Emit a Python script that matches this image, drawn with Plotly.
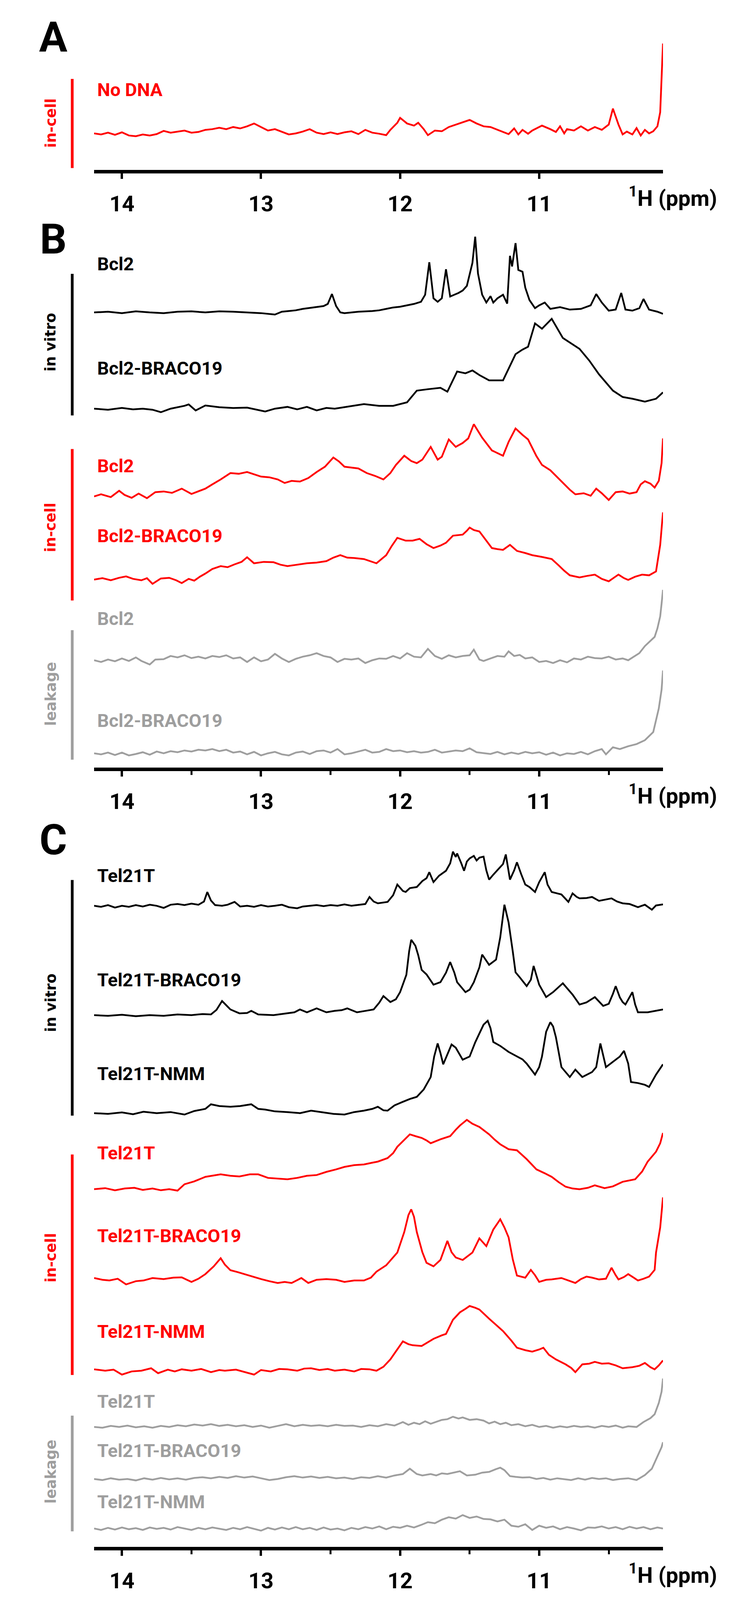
"""Imino-proton NMR spectra: in vitro, in-cell and leakage samples (panels A, B, C)."""
import plotly.graph_objects as go

# ---- panel A: no DNA, in-cell ----
NO_DNA_PPM = [14.20, 14.15, 14.10, 14.05, 14.00, 13.95, 13.90, 13.85, 13.80, 13.75, 13.70, 13.65,
              13.60, 13.55, 13.50, 13.45, 13.40, 13.35, 13.30, 13.25, 13.20, 13.15, 13.10, 13.05,
              13.00, 12.95, 12.90, 12.85, 12.80, 12.75, 12.70, 12.65, 12.60, 12.55, 12.50, 12.45,
              12.40, 12.35, 12.30, 12.25, 12.20, 12.15, 12.10, 12.07, 12.02, 12.00, 11.95, 11.90,
              11.87, 11.83, 11.80, 11.75, 11.70, 11.65, 11.60, 11.55, 11.50, 11.45, 11.40, 11.35,
              11.30, 11.25, 11.22, 11.18, 11.15, 11.12, 11.08, 11.05, 10.98, 10.92, 10.88, 10.85,
              10.82, 10.80, 10.75, 10.70, 10.65, 10.60, 10.55, 10.50, 10.47, 10.43, 10.40, 10.37,
              10.33, 10.30, 10.27, 10.24, 10.21, 10.18, 10.15, 10.13, 10.12, 10.11]
NO_DNA_INT = [0, -3, 2, -4, 3, -6, -8, -3, -6, -2, 7, 2,
              5, 8, 2, 4, 10, 12, 16, 12, 18, 14, 20, 28,
              18, 8, 12, 5, -3, 0, 5, 12, 2, -2, 3, -2,
              3, 6, -2, 10, 2, -1, -5, 10, 30, 44, 28, 22,
              30, 12, -5, 8, 6, 18, 25, 32, 38, 28, 20, 18,
              10, 3, -2, 14, -3, 10, -1, 8, 22, 12, 4, 20,
              0, 12, 8, 20, 8, 18, 10, 25, 70, 25, -3, 5,
              -3, 15, -6, 10, 0, 6, 20, 60, 150, 254]

# ---- panel B: Bcl2 ----
BCL2_VITRO_PPM = [14.20, 14.10, 14.00, 13.90, 13.80, 13.70, 13.60, 13.50, 13.40, 13.30, 13.20, 13.10,
                  13.00, 12.90, 12.85, 12.80, 12.75, 12.70, 12.62, 12.55, 12.52, 12.49, 12.46, 12.43,
                  12.40, 12.30, 12.20, 12.15, 12.10, 12.05, 12.00, 11.95, 11.90, 11.85, 11.82, 11.79,
                  11.76, 11.73, 11.70, 11.67, 11.64, 11.61, 11.58, 11.55, 11.52, 11.48, 11.46, 11.44,
                  11.41, 11.38, 11.35, 11.33, 11.30, 11.26, 11.23, 11.21, 11.195, 11.17, 11.15, 11.12,
                  11.10, 11.07, 11.03, 11.00, 10.96, 10.92, 10.85, 10.78, 10.70, 10.63, 10.59, 10.55,
                  10.50, 10.45, 10.41, 10.38, 10.33, 10.28, 10.25, 10.21, 10.15, 10.11]
BCL2_VITRO_INT = [0, 2, -2, 3, 0, -2, 2, 3, 0, 3, 2, 0,
                  -2, -6, 2, 4, 6, 10, 14, 18, 24, 52, 18, 0,
                  -2, 2, 4, 6, 10, 14, 16, 20, 24, 30, 50, 142,
                  40, 30, 40, 122, 45, 50, 55, 62, 75, 140, 214, 110,
                  50, 28, 46, 28, 40, 50, 25, 160, 130, 196, 120, 115,
                  70, 35, 12, 20, 28, 10, 15, 8, 10, 20, 52, 28,
                  5, 8, 55, 8, 5, 12, 38, 8, 2, -4]

BCL2_BRACO_VITRO_PPM = [14.20, 14.10, 14.00, 13.92, 13.85, 13.78, 13.72, 13.65, 13.55, 13.52, 13.47,
                        13.40, 13.30, 13.20, 13.10, 12.97, 12.90, 12.81, 12.74, 12.67, 12.60, 12.53,
                        12.47, 12.40, 12.33, 12.26, 12.15, 12.05, 11.95, 11.88, 11.80, 11.71, 11.66,
                        11.59, 11.53, 11.48, 11.43, 11.36, 11.26, 11.17, 11.12, 11.08, 11.03, 10.98,
                        10.91, 10.83, 10.71, 10.64, 10.57, 10.47, 10.40, 10.33, 10.24, 10.16, 10.11]
BCL2_BRACO_VITRO_INT = [0, -3, 2, -2, 0, -3, -10, 0, 8, 12, -5,
                        9, 4, 2, 3, -8, 0, 5, -2, 5, -5, 2,
                        0, 4, 8, 13, 8, 8, 18, 51, 55, 59, 48,
                        105, 100, 108, 95, 80, 80, 154, 167, 175, 241, 226,
                        254, 200, 169, 136, 97, 51, 33, 28, 20, 28, 46]

BCL2_CELL_PPM = [14.20, 14.15, 14.08, 14.02, 13.98, 13.93, 13.88, 13.82, 13.76, 13.70, 13.64, 13.57,
                 13.50, 13.45, 13.40, 13.35, 13.29, 13.22, 13.16, 13.10, 13.05, 13.00, 12.94, 12.88,
                 12.83, 12.78, 12.72, 12.66, 12.60, 12.54, 12.48, 12.44, 12.40, 12.35, 12.30, 12.24,
                 12.18, 12.12, 12.07, 12.03, 11.97, 11.92, 11.88, 11.84, 11.78, 11.73, 11.70, 11.65,
                 11.60, 11.55, 11.51, 11.47, 11.41, 11.34, 11.30, 11.26, 11.22, 11.17, 11.12, 11.08,
                 11.02, 10.98, 10.92, 10.88, 10.83, 10.78, 10.74, 10.68, 10.63, 10.59, 10.55, 10.50,
                 10.45, 10.40, 10.35, 10.30, 10.27, 10.24, 10.20, 10.17, 10.14, 10.12, 10.11]
BCL2_CELL_INT = [-4, 2, -6, 12, 0, -8, 4, -9, 8, 10, 6, 18,
                 3, 10, 18, 30, 44, 62, 60, 65, 58, 52, 50, 44,
                 34, 40, 38, 48, 65, 80, 106, 95, 80, 78, 75, 62,
                 54, 44, 62, 85, 111, 96, 90, 100, 136, 100, 108, 157,
                 136, 147, 160, 200, 162, 126, 118, 111, 150, 188, 170, 157,
                 110, 85, 70, 54, 35, 15, 2, 5, -2, 18, 5, -14,
                 8, 10, 4, 8, 30, 39, 32, 21, 40, 90, 160]

BCL2_BRACO_CELL_PPM = [14.20, 14.14, 14.08, 14.02, 13.97, 13.92, 13.86, 13.82, 13.78, 13.72, 13.66,
                       13.61, 13.57, 13.52, 13.48, 13.44, 13.40, 13.35, 13.29, 13.24, 13.19, 13.14,
                       13.10, 13.05, 12.98, 12.91, 12.86, 12.81, 12.74, 12.67, 12.60, 12.53, 12.48,
                       12.43, 12.38, 12.33, 12.26, 12.21, 12.17, 12.10, 12.06, 12.02, 11.96, 11.91,
                       11.86, 11.81, 11.76, 11.71, 11.67, 11.62, 11.55, 11.52, 11.50, 11.47, 11.43,
                       11.38, 11.34, 11.30, 11.26, 11.21, 11.16, 11.10, 11.05, 10.98, 10.91, 10.86,
                       10.82, 10.78, 10.71, 10.66, 10.60, 10.55, 10.50, 10.46, 10.43, 10.39, 10.36,
                       10.31, 10.26, 10.21, 10.16, 10.13, 10.11]
BCL2_BRACO_CELL_INT = [0, 4, -2, 5, 9, 2, -2, 4, -12, 3, 5,
                       -2, -10, 2, -3, 8, 17, 30, 38, 35, 43, 50,
                       63, 46, 50, 49, 42, 38, 42, 46, 48, 52, 62,
                       69, 62, 61, 58, 52, 46, 69, 95, 118, 110, 110,
                       115, 100, 89, 96, 104, 124, 127, 138, 147, 140, 136,
                       110, 89, 86, 84, 98, 81, 75, 69, 64, 58, 40,
                       25, 12, 6, 10, 14, 2, -5, 6, 14, 4, -1,
                       8, 14, 12, 23, 98, 190]

BCL2_LEAK_PPM = [14.20, 14.15, 14.10, 14.05, 14.00, 13.95, 13.90, 13.86, 13.80, 13.76, 13.70, 13.65,
                 13.60, 13.55, 13.50, 13.45, 13.40, 13.35, 13.30, 13.25, 13.20, 13.15, 13.10, 13.05,
                 13.00, 12.95, 12.90, 12.85, 12.80, 12.75, 12.70, 12.65, 12.60, 12.55, 12.50, 12.45,
                 12.40, 12.35, 12.30, 12.25, 12.20, 12.15, 12.10, 12.05, 12.00, 11.95, 11.90, 11.85,
                 11.80, 11.75, 11.70, 11.65, 11.60, 11.55, 11.50, 11.47, 11.43, 11.40, 11.35, 11.30,
                 11.25, 11.22, 11.18, 11.14, 11.10, 11.05, 11.00, 10.95, 10.90, 10.85, 10.80, 10.75,
                 10.70, 10.65, 10.60, 10.55, 10.50, 10.45, 10.40, 10.36, 10.32, 10.28, 10.24, 10.20,
                 10.17, 10.15, 10.13, 10.12, 10.11]
BCL2_LEAK_INT = [0, -5, 2, -3, 5, -2, 8, -2, -12, 2, 3, 12,
                 8, 14, 6, 10, 5, 12, 9, 14, 5, 8, -5, 8,
                 -3, 2, 18, 5, -5, 4, 10, 14, 20, 12, 8, -5,
                 4, 2, 5, -8, 0, 5, 4, 12, 5, 20, 10, 8,
                 32, 12, 4, 14, 8, 12, 14, 30, 2, -2, 5, 12,
                 10, 25, 12, 15, 5, 8, -5, -2, -8, 0, -6, 5,
                 2, 10, 6, 5, 10, 2, 5, 0, 10, 20, 40, 55,
                 66, 90, 124, 160, 199]

BCL2_BRACO_LEAK_PPM = [14.20, 14.15, 14.10, 14.05, 14.00, 13.95, 13.90, 13.85, 13.80, 13.75, 13.70,
                       13.65, 13.60, 13.55, 13.50, 13.45, 13.40, 13.35, 13.30, 13.25, 13.20, 13.15,
                       13.10, 13.05, 13.00, 12.95, 12.90, 12.85, 12.80, 12.75, 12.70, 12.65, 12.60,
                       12.55, 12.50, 12.45, 12.40, 12.35, 12.30, 12.25, 12.20, 12.15, 12.10, 12.05,
                       12.00, 11.95, 11.90, 11.85, 11.80, 11.75, 11.70, 11.65, 11.60, 11.55, 11.50,
                       11.45, 11.40, 11.35, 11.30, 11.25, 11.20, 11.15, 11.10, 11.05, 11.00, 10.95,
                       10.90, 10.85, 10.80, 10.75, 10.70, 10.65, 10.60, 10.55, 10.52, 10.47, 10.42,
                       10.36, 10.30, 10.24, 10.18, 10.14, 10.12, 10.11]
BCL2_BRACO_LEAK_INT = [0, -3, 2, -5, 2, -6, -2, 3, -4, 5, 0,
                       6, 3, 8, 5, 10, 8, 12, 6, 10, 2, 5,
                       -3, 4, -6, 0, 4, -3, -6, 2, 5, -2, 6,
                       8, 2, 12, -3, 0, 5, 10, 2, 4, 12, 6,
                       8, 3, 6, 2, 4, 10, 2, 5, 8, 6, 14,
                       3, 0, -2, 4, -3, 2, -2, 4, 0, 3, -4,
                       2, -6, 0, -2, 4, -3, 6, 12, -3, 17, 12,
                       20, 26, 37, 60, 127, 180, 234]

# ---- panel C: Tel21T ----
TEL_VITRO_PPM = [14.20, 14.15, 14.10, 14.05, 14.00, 13.95, 13.90, 13.85, 13.80, 13.75, 13.70, 13.65,
                 13.60, 13.55, 13.50, 13.45, 13.41, 13.386, 13.36, 13.33, 13.28, 13.24, 13.19, 13.15,
                 13.10, 13.05, 13.00, 12.95, 12.90, 12.85, 12.80, 12.74, 12.70, 12.65, 12.60, 12.55,
                 12.50, 12.45, 12.40, 12.35, 12.30, 12.25, 12.22, 12.19, 12.16, 12.12, 12.09, 12.05,
                 12.02, 11.98, 11.96, 11.93, 11.88, 11.84, 11.81, 11.79, 11.76, 11.72, 11.67, 11.64,
                 11.62, 11.60, 11.59, 11.56, 11.54, 11.52, 11.50, 11.47, 11.45, 11.43, 11.40, 11.38,
                 11.36, 11.33, 11.29, 11.26, 11.24, 11.22, 11.21, 11.18, 11.16, 11.13, 11.10, 11.07,
                 11.03, 11.00, 10.96, 10.94, 10.91, 10.87, 10.84, 10.79, 10.76, 10.73, 10.71, 10.66,
                 10.62, 10.57, 10.52, 10.48, 10.44, 10.40, 10.35, 10.29, 10.24, 10.19, 10.16, 10.11]
TEL_VITRO_INT = [0, -3, 2, -5, 0, -3, 2, -2, 3, 0, -6, 3,
                 5, 2, 6, 3, 12, 39, 15, 2, 0, 3, 11, -2,
                 0, -3, 2, -2, 0, 3, -4, -7, -2, 0, 2, -1,
                 2, 0, 4, 0, 3, 5, 25, 12, 7, 9, 11, 30,
                 60, 42, 39, 50, 53, 70, 78, 95, 67, 85, 99, 120,
                 153, 138, 148, 120, 99, 125, 134, 141, 128, 136, 139, 100,
                 74, 88, 106, 118, 145, 100, 74, 100, 123, 90, 60, 53,
                 39, 67, 95, 60, 39, 35, 32, 11, 35, 25, 21, 22,
                 25, 14, 18, 21, 12, 7, 5, -4, 3, -11, 1, 4]

TEL_BRACO_VITRO_PPM = [14.20, 14.10, 14.00, 13.90, 13.80, 13.70, 13.60, 13.50, 13.42, 13.36, 13.32,
                       13.28, 13.25, 13.22, 13.155, 13.10, 13.07, 13.02, 12.91, 12.81, 12.76, 12.72,
                       12.67, 12.60, 12.53, 12.47, 12.42, 12.38, 12.31, 12.25, 12.19, 12.15, 12.12,
                       12.07, 12.03, 12.00, 11.955, 11.935, 11.92, 11.89, 11.87, 11.845, 11.81, 11.76,
                       11.71, 11.67, 11.64, 11.61, 11.59, 11.53, 11.50, 11.47, 11.43, 11.41, 11.36,
                       11.31, 11.28, 11.25, 11.22, 11.19, 11.17, 11.14, 11.09, 11.06, 11.04, 11.00,
                       10.95, 10.90, 10.83, 10.76, 10.71, 10.66, 10.60, 10.54, 10.50, 10.47, 10.45,
                       10.42, 10.40, 10.38, 10.35, 10.33, 10.31, 10.29, 10.22, 10.16, 10.11]
TEL_BRACO_VITRO_INT = [0, -2, 1, -3, 0, -2, 2, 0, 3, 2, 15,
                       40, 28, 16, 5, 6, 12, 2, 0, 5, 8, 16,
                       8, 19, 8, 12, 14, 19, 8, 12, 16, 35, 54,
                       37, 45, 65, 114, 180, 213, 196, 170, 128, 115, 86,
                       93, 120, 150, 120, 93, 65, 72, 93, 135, 171, 142,
                       157, 220, 312, 262, 180, 121, 107, 82, 100, 139, 86,
                       51, 65, 90, 58, 30, 36, 51, 26, 32, 60, 82,
                       50, 37, 30, 50, 65, 30, 8, 8, 12, 16]

TEL_NMM_VITRO_PPM = [14.20, 14.10, 14.00, 13.92, 13.845, 13.75, 13.65, 13.55, 13.48, 13.40, 13.36,
                     13.30, 13.22, 13.15, 13.07, 13.02, 12.97, 12.90, 12.81, 12.72, 12.64, 12.55,
                     12.48, 12.40, 12.33, 12.26, 12.20, 12.16, 12.12, 12.09, 12.04, 11.98, 11.93,
                     11.88, 11.83, 11.78, 11.755, 11.73, 11.71, 11.69, 11.66, 11.63, 11.60, 11.55,
                     11.50, 11.46, 11.43, 11.40, 11.37, 11.35, 11.33, 11.28, 11.22, 11.17, 11.12,
                     11.09, 11.03, 11.00, 10.98, 10.95, 10.92, 10.90, 10.88, 10.84, 10.78, 10.74,
                     10.69, 10.62, 10.59, 10.56, 10.52, 10.47, 10.42, 10.39, 10.36, 10.34, 10.29,
                     10.24, 10.21, 10.16, 10.11]
TEL_NMM_VITRO_INT = [0, -2, 2, -3, 4, 0, 3, -4, 6, 12, 25,
                     20, 18, 20, 25, 12, 10, 5, 3, 0, 7, 2,
                     -2, -4, 3, 7, 12, 18, 8, 7, 22, 32, 40,
                     46, 67, 102, 160, 197, 170, 138, 165, 194, 185, 151,
                     160, 200, 225, 250, 261, 240, 201, 190, 173, 162, 152,
                     140, 109, 130, 160, 230, 257, 245, 215, 130, 102, 123,
                     102, 116, 130, 197, 130, 145, 160, 176, 140, 88, 85,
                     80, 74, 109, 138]

TEL_CELL_PPM = [14.20, 14.12, 14.05, 13.98, 13.91, 13.85, 13.78, 13.72, 13.66, 13.60, 13.55, 13.48,
                13.40, 13.35, 13.29, 13.22, 13.155, 13.08, 13.02, 12.95, 12.88, 12.81, 12.74, 12.67,
                12.60, 12.53, 12.46, 12.40, 12.33, 12.26, 12.20, 12.16, 12.09, 12.05, 12.02, 11.97,
                11.93, 11.89, 11.845, 11.81, 11.78, 11.71, 11.64, 11.60, 11.57, 11.52, 11.48, 11.43,
                11.36, 11.32, 11.28, 11.22, 11.16, 11.09, 11.02, 10.96, 10.91, 10.86, 10.81, 10.76,
                10.71, 10.65, 10.60, 10.53, 10.47, 10.40, 10.31, 10.26, 10.22, 10.16, 10.13, 10.11]
TEL_CELL_INT = [0, 3, -3, 2, 4, -2, 2, -3, 0, -4, 14, 22,
                35, 38, 42, 38, 36, 42, 42, 32, 30, 28, 32, 38,
                40, 49, 56, 63, 68, 70, 75, 78, 88, 102, 120, 140,
                155, 150, 145, 138, 130, 141, 150, 168, 180, 196, 185, 176,
                155, 140, 127, 113, 110, 85, 56, 45, 35, 20, 7, 2,
                0, 4, 11, 3, 8, 21, 28, 50, 78, 106, 130, 159]

TEL_BRACO_CELL_PPM = [14.20, 14.14, 14.09, 14.03, 13.97, 13.90, 13.845, 13.78, 13.70, 13.63, 13.57,
                      13.50, 13.45, 13.40, 13.34, 13.29, 13.26, 13.22, 13.17, 13.12, 13.06, 13.00,
                      12.94, 12.88, 12.83, 12.78, 12.71, 12.66, 12.60, 12.53, 12.46, 12.40, 12.33,
                      12.26, 12.21, 12.17, 12.10, 12.02, 11.97, 11.94, 11.92, 11.90, 11.88, 11.84,
                      11.81, 11.76, 11.71, 11.68, 11.66, 11.63, 11.60, 11.55, 11.48, 11.43, 11.40,
                      11.38, 11.33, 11.28, 11.25, 11.22, 11.19, 11.16, 11.10, 11.06, 11.03, 11.00,
                      10.95, 10.91, 10.84, 10.78, 10.74, 10.70, 10.66, 10.62, 10.57, 10.52, 10.48,
                      10.45, 10.43, 10.39, 10.36, 10.32, 10.29, 10.25, 10.21, 10.17, 10.16, 10.13,
                      10.11]
TEL_BRACO_CELL_INT = [7, 2, 0, 5, -11, -2, 0, 7, 4, 8, 9,
                      -4, 5, 18, 40, 63, 45, 29, 24, 18, 10, 4,
                      -2, -7, -4, -7, 7, -7, 2, 4, 2, -4, 0,
                      0, 8, 25, 43, 79, 137, 185, 201, 180, 137, 80,
                      50, 40, 58, 90, 112, 80, 65, 58, 79, 119, 105,
                      97, 144, 173, 150, 122, 60, 14, 8, 30, 15, -4,
                      2, 3, 7, -2, -7, 4, 11, 8, 3, 5, 36,
                      15, 3, 10, 18, 8, 0, 5, 11, 30, 79, 150,
                      235]

TEL_NMM_CELL_PPM = [14.20, 14.12, 14.06, 14.00, 13.93, 13.86, 13.79, 13.74, 13.67, 13.62, 13.57,
                    13.50, 13.43, 13.36, 13.30, 13.26, 13.18, 13.12, 13.05, 13.00, 12.93, 12.87,
                    12.81, 12.74, 12.69, 12.64, 12.58, 12.52, 12.47, 12.40, 12.33, 12.28, 12.22,
                    12.17, 12.12, 12.07, 12.02, 11.98, 11.94, 11.91, 11.845, 11.80, 11.76, 11.70,
                    11.67, 11.62, 11.57, 11.53, 11.50, 11.46, 11.43, 11.36, 11.30, 11.26, 11.20,
                    11.16, 11.10, 11.05, 11.00, 10.97, 10.93, 10.88, 10.81, 10.77, 10.74, 10.69,
                    10.64, 10.60, 10.55, 10.50, 10.45, 10.40, 10.33, 10.28, 10.24, 10.20, 10.17,
                    10.14, 10.11]
TEL_NMM_CELL_INT = [4, 0, 3, -11, -2, 0, 7, -7, 3, -2, 4,
                    0, 5, -4, 2, 0, 3, -3, -11, 2, -2, 5,
                    4, 0, 6, 7, 2, 5, 0, 3, -2, 5, 4,
                    0, 11, 32, 60, 83, 75, 72, 70, 80, 90, 100,
                    104, 144, 165, 175, 183, 178, 173, 147, 125, 112, 85,
                    65, 58, 54, 60, 65, 45, 32, 18, 8, -4, 18,
                    20, 25, 20, 21, 15, 7, 10, 14, 22, 10, 4,
                    15, 29]

TEL_LEAK_PPM = [14.20, 14.14, 14.08, 14.02, 13.96, 13.90, 13.84, 13.78, 13.72, 13.66, 13.60, 13.54,
                13.48, 13.42, 13.36, 13.30, 13.24, 13.18, 13.12, 13.06, 13.00, 12.94, 12.88, 12.82,
                12.76, 12.70, 12.64, 12.58, 12.52, 12.46, 12.40, 12.34, 12.28, 12.22, 12.16, 12.10,
                12.04, 11.98, 11.94, 11.90, 11.86, 11.82, 11.78, 11.74, 11.70, 11.66, 11.62, 11.58,
                11.55, 11.50, 11.45, 11.40, 11.36, 11.32, 11.28, 11.24, 11.20, 11.15, 11.10, 11.05,
                11.00, 10.95, 10.90, 10.85, 10.80, 10.75, 10.70, 10.65, 10.60, 10.55, 10.50, 10.45,
                10.40, 10.36, 10.30, 10.25, 10.20, 10.17, 10.14, 10.12, 10.11]
TEL_LEAK_INT = [0, -2, 3, 0, 4, -1, 2, -2, 3, 0, 5, 2,
                7, 4, 8, 3, 6, 2, 5, 0, 4, -2, 3, 8,
                2, 6, 3, 5, 2, 6, 3, 4, 0, 5, 2, 8,
                4, 14, 6, 12, 8, 16, 9, 14, 20, 22, 29, 24,
                27, 20, 22, 18, 10, 15, 8, 12, 5, 8, 2, 6,
                0, 3, -2, 2, -1, 3, 0, 2, -2, 3, 0, 4,
                -2, 2, 0, 14, 25, 36, 68, 100, 137]

TEL_BRACO_LEAK_PPM = [14.20, 14.14, 14.08, 14.02, 13.96, 13.90, 13.84, 13.78, 13.72, 13.66, 13.60,
                      13.54, 13.48, 13.42, 13.36, 13.30, 13.24, 13.18, 13.12, 13.06, 13.00, 12.94,
                      12.88, 12.82, 12.76, 12.70, 12.64, 12.58, 12.52, 12.46, 12.40, 12.34, 12.28,
                      12.22, 12.16, 12.10, 12.04, 11.98, 11.93, 11.88, 11.84, 11.78, 11.74, 11.70,
                      11.66, 11.62, 11.57, 11.52, 11.46, 11.41, 11.36, 11.31, 11.28, 11.25, 11.21,
                      11.17, 11.12, 11.07, 11.02, 10.97, 10.92, 10.87, 10.82, 10.77, 10.72, 10.67,
                      10.62, 10.57, 10.52, 10.47, 10.42, 10.36, 10.30, 10.24, 10.19, 10.15, 10.12,
                      10.11]
TEL_BRACO_LEAK_INT = [0, -3, 2, -2, 0, -4, 2, -2, 3, -1, 2,
                      -2, 3, 5, 2, 6, 3, 8, 4, 7, 2, -3,
                      0, 5, 8, 4, 7, 3, 6, 2, 4, 0, 5,
                      3, 8, 4, 10, 14, 29, 14, 10, 14, 10, 16,
                      14, 18, 22, 10, 12, 18, 20, 28, 32, 25, 8,
                      6, 4, 5, 0, 3, -2, 2, 0, -3, 2, -2,
                      3, 0, 2, -3, 0, 2, -3, 11, 29, 65, 90,
                      104]

TEL_NMM_LEAK_PPM = [14.20, 14.15, 14.10, 14.05, 14.00, 13.95, 13.90, 13.85, 13.80, 13.75, 13.70,
                    13.65, 13.60, 13.55, 13.50, 13.45, 13.40, 13.35, 13.30, 13.25, 13.20, 13.15,
                    13.10, 13.05, 13.00, 12.95, 12.90, 12.85, 12.80, 12.75, 12.70, 12.65, 12.60,
                    12.55, 12.50, 12.45, 12.40, 12.35, 12.30, 12.25, 12.20, 12.15, 12.10, 12.05,
                    12.00, 11.95, 11.90, 11.85, 11.80, 11.75, 11.70, 11.65, 11.60, 11.55, 11.50,
                    11.45, 11.40, 11.35, 11.30, 11.25, 11.20, 11.15, 11.10, 11.05, 11.00, 10.95,
                    10.90, 10.85, 10.80, 10.75, 10.70, 10.65, 10.60, 10.55, 10.50, 10.45, 10.40,
                    10.35, 10.30, 10.25, 10.20, 10.15, 10.11]
TEL_NMM_LEAK_INT = [0, -4, 2, -3, 3, -2, 1, -4, 3, -1, 2,
                    -3, 4, 0, -4, 2, -2, 3, 0, -4, 2, -2,
                    4, -1, -6, 2, -3, 3, -2, 4, -2, 2, -4,
                    3, -3, 0, -5, 2, -2, 4, 0, 6, -2, 5,
                    2, 8, 3, 10, 18, 15, 25, 32, 28, 38, 30,
                    34, 27, 26, 20, 25, 8, 5, 12, -4, 8, 2,
                    6, -2, 4, 0, -5, 3, 2, 6, 0, 4, -2,
                    5, 0, 4, -2, 3, 0]

TICK_VALUES = [14, 13, 12, 11]
TICK_LABELS = ["14", "13", "12", "11"]

BLACK = "#000000"
RED = "#ff0000"
GREY = "#9e9e9e"

# (panel, ppm, intensity, baseline offset, colour, label)
SPECTRA = [
    (0, NO_DNA_PPM, NO_DNA_INT, 103, RED, "No DNA"),
    (1, BCL2_VITRO_PPM, BCL2_VITRO_INT, 1286, BLACK, "Bcl2"),
    (1, BCL2_BRACO_VITRO_PPM, BCL2_BRACO_VITRO_INT, 1014, BLACK, "Bcl2-BRACO19"),
    (1, BCL2_CELL_PPM, BCL2_CELL_INT, 770, RED, "Bcl2"),
    (1, BCL2_BRACO_CELL_PPM, BCL2_BRACO_CELL_INT, 531, RED, "Bcl2-BRACO19"),
    (1, BCL2_LEAK_PPM, BCL2_LEAK_INT, 303, GREY, "Bcl2"),
    (1, BCL2_BRACO_LEAK_PPM, BCL2_BRACO_LEAK_INT, 40, GREY, "Bcl2-BRACO19"),
    (2, TEL_VITRO_PPM, TEL_VITRO_INT, 1812, BLACK, "Tel21T"),
    (2, TEL_BRACO_VITRO_PPM, TEL_BRACO_VITRO_INT, 1503, BLACK, "Tel21T-BRACO19"),
    (2, TEL_NMM_VITRO_PPM, TEL_NMM_VITRO_INT, 1226, BLACK, "Tel21T-NMM"),
    (2, TEL_CELL_PPM, TEL_CELL_INT, 1011, RED, "Tel21T"),
    (2, TEL_BRACO_CELL_PPM, TEL_BRACO_CELL_INT, 753, RED, "Tel21T-BRACO19"),
    (2, TEL_NMM_CELL_PPM, TEL_NMM_CELL_INT, 498, RED, "Tel21T-NMM"),
    (2, TEL_LEAK_PPM, TEL_LEAK_INT, 339, GREY, "Tel21T"),
    (2, TEL_BRACO_LEAK_PPM, TEL_BRACO_LEAK_INT, 192, GREY, "Tel21T-BRACO19"),
    (2, TEL_NMM_LEAK_PPM, TEL_NMM_LEAK_INT, 52, GREY, "Tel21T-NMM"),
]

# label y-centres (reference pixels), same order as SPECTRA
LABEL_Y = [253, 746, 1041, 1317, 1514, 1748, 2036, 2475, 2769, 3034, 3259, 3492, 3763, 3961,
           4100, 4244]

# the photographed page is shorter than the reference and the body has an 8px margin,
# so reference pixel rows are squeezed onto the visible page height
REF_H = 4522
SHOT_H = 4096
MARGIN = 8
W, H = 1926 - 2 * MARGIN, SHOT_H - 2 * MARGIN
VS = SHOT_H / REF_H

LABEL_FONT = "Roboto, Liberation Sans, sans-serif"
WIDE = "DejaVu Sans, Verdana, sans-serif"

# panel geometry in reference pixels: (top, axis line, letter, letter y, minor ticks)
PANELS = [(100, 484, "A", 105, False), (640, 2173, "B", 676, True), (2380, 4376, "C", 2374, True)]
X0, X1 = 241, 1698


def px(pix):
    """reference pixel column -> paper x"""
    return (pix - MARGIN) / W


def py(pix):
    """reference pixel row -> paper y"""
    return 1 - (pix * VS - MARGIN) / H


fig = go.Figure()

for panel, ppm, inten, off, col, _ in SPECTRA:
    fig.add_trace(go.Scatter(
        x=ppm, y=[v + off for v in inten], mode="lines",
        line=dict(color=col, width=4.5),
        xaxis="x" if panel == 0 else f"x{panel + 1}",
        yaxis="y" if panel == 0 else f"y{panel + 1}",
        showlegend=False, hoverinfo="skip"))

layout = dict(width=W, height=H, autosize=False, margin=dict(l=0, r=0, t=0, b=0),
              paper_bgcolor="white", plot_bgcolor="white", showlegend=False)

annotations = []
for i, (top, axis_y, letter, letter_y, minor) in enumerate(PANELS):
    suffix = "" if i == 0 else str(i + 1)
    bottom = axis_y - 4
    xa = dict(domain=[px(X0), px(X1)], range=[14.2, 10.11], anchor="y" + suffix,
              showline=True, linecolor="black", linewidth=9, showgrid=False, zeroline=False,
              ticks="outside", ticklen=14, tickwidth=6, tickcolor="black",
              tickvals=TICK_VALUES, ticktext=TICK_LABELS, ticklabelstandoff=16,
              tickfont=dict(family=LABEL_FONT, size=56, color="black", weight="bold"))
    if minor:
        xa["minor"] = dict(dtick=0.5, tick0=10, ticks="outside", ticklen=10, tickwidth=5,
                           tickcolor="black", showgrid=False)
    ya = dict(domain=[py(bottom), py(top)], range=[0, bottom - top], anchor="x" + suffix,
              visible=False, showgrid=False, zeroline=False)
    layout["xaxis" + suffix] = xa
    layout["yaxis" + suffix] = ya

    annotations.append(dict(text=letter, x=px(136), y=py(letter_y), xref="paper", yref="paper",
                            showarrow=False, xanchor="center", yanchor="middle",
                            font=dict(family=LABEL_FONT, size=108, color="black",
                                      weight="bold")))
    annotations.append(dict(text="<sup>1</sup>H (ppm)", x=px(1608), y=py(axis_y + 72),
                            xref="paper", yref="paper", showarrow=False, xanchor="left",
                            yanchor="middle",
                            font=dict(family=LABEL_FONT, size=56, color="black",
                                      weight="bold")))

for (panel, _, _, _, col, label), ly in zip(SPECTRA, LABEL_Y):
    annotations.append(dict(text=label, x=px(247), y=py(ly), xref="paper", yref="paper",
                            showarrow=False, xanchor="left", yanchor="middle",
                            font=dict(family=LABEL_FONT, size=47, color=col, weight="bold")))

# group brackets: (top, bottom, colour, text, text centre)
GROUPS = [(223, 475, RED, "in-cell", 348),
          (774, 1174, BLACK, "in vitro", 967),
          (1269, 1697, RED, "in-cell", 1491),
          (1781, 2147, GREY, "leakage", 1961),
          (2487, 3153, BLACK, "in vitro", 2834),
          (3263, 3886, RED, "in-cell", 3555),
          (4001, 4328, GREY, "leakage", 4159)]
shapes = []
for top, bottom, col, text, ty in GROUPS:
    shapes.append(dict(type="line", xref="paper", yref="paper", x0=px(185), x1=px(185),
                       y0=py(top), y1=py(bottom), line=dict(color=col, width=7)))
    annotations.append(dict(text=text, x=px(130), y=py(ty), xref="paper", yref="paper",
                            showarrow=False, textangle=-90, xanchor="center", yanchor="middle",
                            font=dict(family=WIDE, size=37, color=col, weight="bold")))

layout["annotations"] = annotations
layout["shapes"] = shapes
fig.update_layout(**layout)

fig.write_html("out.html")
